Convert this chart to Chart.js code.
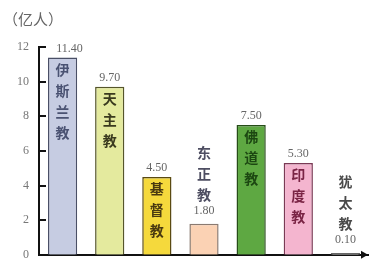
<!DOCTYPE html>
<html><head><meta charset="utf-8">
<script src="https://cdn.jsdelivr.net/npm/chart.js@4"></script>
<style>html,body{margin:0;padding:0;background:#fff}#wrap{width:369px;height:272px}</style>
</head><body><div id="wrap"><canvas id="c"></canvas></div>
<script>
const categories = ['伊斯兰教','天主教','基督教','东正教','佛道教','印度教','犹太教'];
const values = [11.40, 9.70, 4.50, 1.80, 7.50, 5.30, 0.10];
const yTicks = [0, 2, 4, 6, 8, 10, 12];
const unitLabel = '（亿人）';
const fillColors = ['#c6cce2','#e4ea9e','#f5d93c','#fbd2b4','#5ea842','#f4b5cf','#ededed'];
const borderColors = ['#4a4f66','#55552a','#5a4a12','#8a7a70','#264d18','#7a3a55','#666666'];
const textColors = ['#4a5272','#3a3a1e','#4a3a10','#4e4e62','#1c4712','#7a2445','#4a4a4a'];

const CJK = '"Noto Sans CJK SC","Noto Sans CJK JP",sans-serif';
const SERIF = '"Liberation Serif","DejaVu Serif",serif';

const decor = {
  id: 'decor',
  afterDraw(chart) {
    const ctx = chart.ctx, a = chart.chartArea, ys = chart.scales.y;
    ctx.save();
    ctx.fillStyle = '#666';
    ctx.font = '400 15px ' + CJK;
    ctx.textAlign = 'left'; ctx.textBaseline = 'middle';
    ctx.fillText(unitLabel, 3, 19);
    // inward ticks
    ctx.fillStyle = '#111';
    for (const v of yTicks) {
      const y = Math.round(ys.getPixelForValue(v));
      ctx.fillRect(a.left, y - 1, 7, 2);
    }
    // arrow at end of x axis
    ctx.beginPath();
    ctx.moveTo(a.right - 1, a.bottom);
    ctx.lineTo(a.right - 8, a.bottom - 4);
    ctx.lineTo(a.right - 8, a.bottom + 4);
    ctx.closePath(); ctx.fill();
    // bar texts
    const meta = chart.getDatasetMeta(0);
    const pitch = 21;
    meta.data.forEach((bar, i) => {
      const chars = Array.from(categories[i]);
      const h = bar.base - bar.y;
      const inside = h > chars.length * pitch + 8;
      ctx.textAlign = 'center'; ctx.textBaseline = 'middle';
      const valueText = values[i].toFixed(2);
      if (inside) {
        ctx.font = '600 14px ' + CJK;
        ctx.fillStyle = textColors[i];
        chars.forEach((ch, k) => ctx.fillText(ch, bar.x, bar.y + 12 + k * pitch));
        ctx.font = '12px ' + SERIF; ctx.fillStyle = '#666';
        ctx.fillText(valueText, bar.x + (i === 0 ? 7 : 0), bar.y - 9);
      } else {
        ctx.font = '12px ' + SERIF; ctx.fillStyle = '#666';
        const vy = bar.y - 13;
        ctx.fillText(valueText, bar.x, vy);
        ctx.font = '600 14px ' + CJK;
        ctx.fillStyle = textColors[i];
        const n = chars.length;
        chars.forEach((ch, k) => ctx.fillText(ch, bar.x, vy - 16 - (n - 1 - k) * pitch));
      }
    });
    ctx.restore();
  }
};

new Chart(document.getElementById('c'), {
  type: 'bar',
  data: {
    labels: categories,
    datasets: [{
      data: values,
      backgroundColor: fillColors,
      borderColor: borderColors,
      borderWidth: 1.5,
      borderSkipped: 'bottom',
      barPercentage: 0.62,
      categoryPercentage: 1
    }]
  },
  options: {
    responsive: true, maintainAspectRatio: false, animation: false,
    layout: { padding: { top: 47, bottom: 9, left: 0, right: 0 } },
    plugins: { legend: { display: false }, tooltip: { enabled: false }, title: { display: false } },
    scales: {
      x: {
        grid: { display: false, drawTicks: false },
        ticks: { display: false },
        border: { display: true, color: '#111', width: 2 }
      },
      y: {
        min: 0, max: 12,
        afterFit(s) { s.width = 39; },
        afterBuildTicks(s) { s.ticks = yTicks.map(v => ({ value: v })); },
        grid: { display: false, drawTicks: false },
        border: { display: true, color: '#111', width: 2 },
        ticks: { padding: 10, color: '#777', font: { family: SERIF, size: 12 } }
      }
    }
  },
  plugins: [decor]
});
</script></body></html>
